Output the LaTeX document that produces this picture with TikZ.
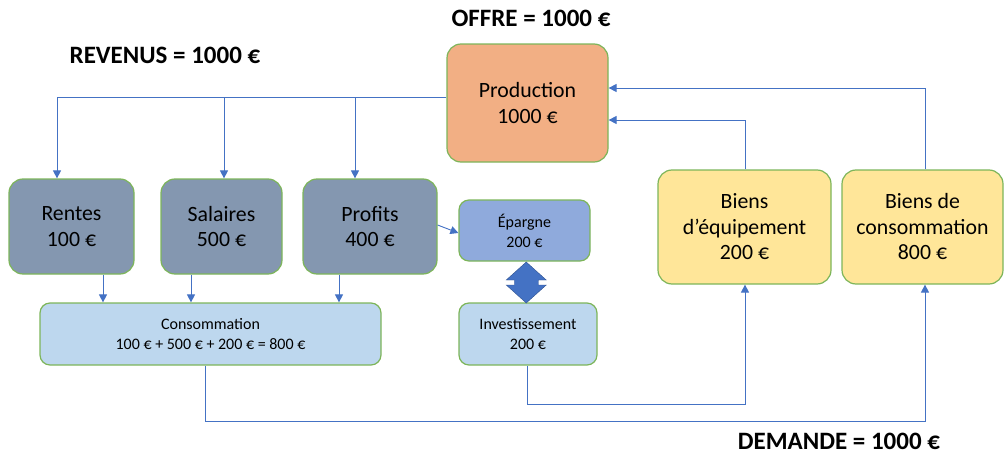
\documentclass[tikz,border=0pt]{standalone}
\usepackage{fontspec}
\setmainfont{Carlito}
\usetikzlibrary{arrows.meta,calc}

\definecolor{bordure}{HTML}{7DB55A}
\definecolor{fleche}{HTML}{4472C4}
\definecolor{orange}{HTML}{F2AF84}
\definecolor{ardoise}{HTML}{8497B0}
\definecolor{bleu}{HTML}{8FAADC}
\definecolor{bleuclair}{HTML}{BDD7EE}
\definecolor{jaune}{HTML}{FFE699}
\definecolor{fonce}{HTML}{2F528F}

\begin{document}
\begin{tikzpicture}[x=1pt,y=-1pt,
  box/.style={draw=bordure,line width=1.2pt,rounded corners=14pt,align=center,
    inner sep=0pt,font=\fontsize{21.8}{25.5}\selectfont},
  smallbox/.style={box,rounded corners=10pt,font=\fontsize{16}{20}\selectfont},
  flow/.style={draw=fleche,line width=0.9pt,-{Triangle[length=8pt,width=8pt]}},
  title/.style={inner sep=0.5pt,font=\fontsize{25}{29}\selectfont\bfseries}]

\useasboundingbox (0,0) rectangle (1005,455);

% Titles
\node[title] (offre) at (531,18) {OFFRE = 1000 €};
\node[title] (revenus) at (165,55) {REVENUS = 1000 €};
\node[title] (demande) at (839,441) {DEMANDE = 1000 €};

% Production
\node[box,fill=orange,minimum width=161,minimum height=118] (prod) at (527.5,103) {Production\\1000 €};

% Revenus
\node[box,fill=ardoise,minimum width=125,minimum height=95] (rentes) at (71.5,226.5) {Rentes\\100 €};
\node[box,fill=ardoise,minimum width=121,minimum height=95] (salaires) at (221.5,226.5) {Salaires\\500 €};
\node[box,fill=ardoise,minimum width=134,minimum height=95] (profits) at (370,226.5) {Profits\\400 €};

% Epargne et investissement
\node[smallbox,fill=bleu,minimum width=131,minimum height=61] (epargne) at (524.5,230.5) {Épargne\\200 €};
\node[smallbox,fill=bleuclair,minimum width=138,minimum height=62] (invest) at (528,334) {Investissement\\200 €};
\node[smallbox,fill=bleuclair,minimum width=341,minimum height=62] (conso) at (210.5,334) {Consommation\\100 € + 500 € + 200 € = 800 €};

% Biens
\node[box,fill=jaune,minimum width=173,minimum height=114] (bde) at (744.5,227) {Biens\\d’équipement\\200 €};
\node[box,fill=jaune,minimum width=161,minimum height=114] (bdc) at (922.5,227) {Biens de\\consommation\\800 €};

% Double arrow between epargne and invest
\coordinate (mid) at ($(epargne.south)!0.5!(invest.north)$);
\fill[fleche,draw=fonce,line width=0.4pt] ($(mid)+(0,-20)$) -- ($(mid)+(20,-2)$) -- ($(mid)+(12,-2)$)
  -- ($(mid)+(12,3)$) -- ($(mid)+(20,3)$) -- ($(mid)+(0,21)$) -- ($(mid)+(-20,3)$)
  -- ($(mid)+(-12,3)$) -- ($(mid)+(-12,-2)$) -- ($(mid)+(-20,-2)$) -- cycle;

% Revenus distribution
\coordinate (rev) at ([yshift=6pt]prod.west);
\draw[flow] (rev) -| ([xshift=-14.5pt]rentes.north);
\draw[flow] ([xshift=2.5pt]salaires.north |- rev) -- ([xshift=2.5pt]salaires.north);
\draw[flow] ([xshift=-15pt]profits.north |- rev) -- ([xshift=-15pt]profits.north);

% Vers consommation
\draw[flow] ([xshift=31.5pt]rentes.south) -- ([xshift=31.5pt]rentes.south |- conso.north);
\draw[flow] ([xshift=-30.5pt]salaires.south) -- ([xshift=-30.5pt]salaires.south |- conso.north);
\draw[flow] ([xshift=-31pt]profits.south) -- ([xshift=-31pt]profits.south |- conso.north);
\draw[flow] ([yshift=1.5pt]profits.east) -- ([yshift=-2.5pt]epargne.west);

% Demande
\draw[flow] ([xshift=-5.5pt]conso.south) -- ++(0,56) -| ([xshift=2.5pt]bdc.south);
\draw[flow] ([xshift=-1pt]invest.south) -- ++(0,39) -| ([xshift=0.5pt]bde.south);

% Offre
\draw[flow] ([xshift=0.5pt]bde.north) |- ([yshift=-17pt]prod.east);
\draw[flow] ([xshift=2.5pt]bdc.north) |- ([yshift=15pt]prod.east);

\end{tikzpicture}
\end{document}
